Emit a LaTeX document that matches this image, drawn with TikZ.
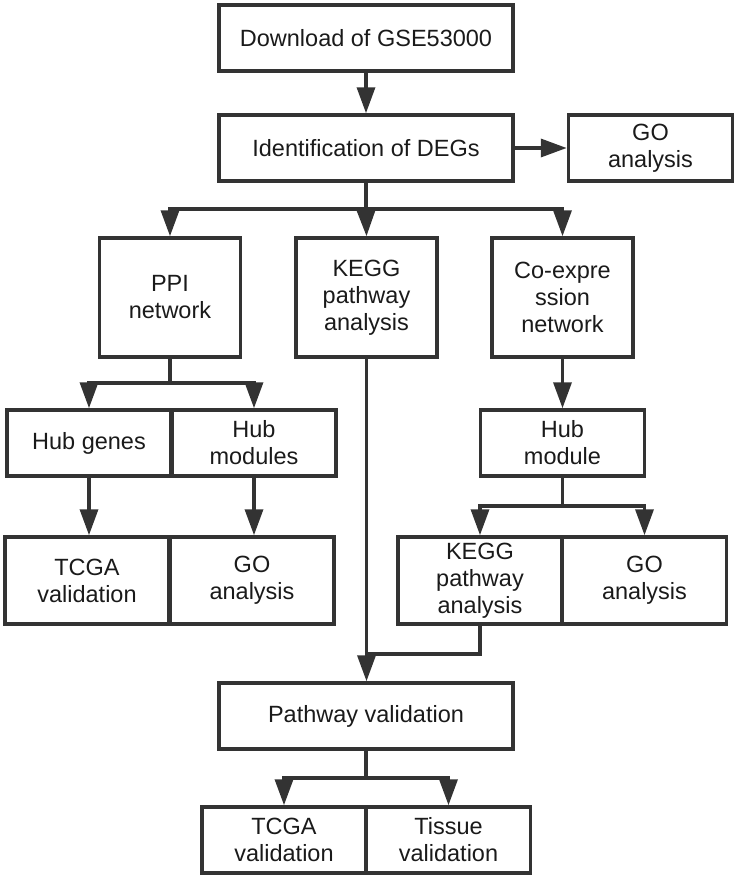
\documentclass[tikz,border=0pt]{standalone}
\usepackage{fontspec}
\setmainfont{Liberation Sans}
\usetikzlibrary{arrows.meta}
\definecolor{ink}{HTML}{333333}
\definecolor{type}{HTML}{1A1A1A}
\begin{document}
\begin{tikzpicture}[
  x=0.5pt, y=-0.5pt,
  every node/.style={draw=ink, text=type, line width=1.75pt, align=center, inner sep=2pt,
    font=\fontsize{11.75}{13.5}\selectfont},
  wide/.style={minimum width=147pt, minimum height=33pt},
  half/.style={minimum width=82pt, minimum height=33pt},
  tall/.style={minimum width=70.5pt, minimum height=59.5pt},
  pair/.style={minimum width=82pt, minimum height=43.5pt},
  flow/.style={draw=ink, line width=1.75pt, -{Triangle[length=13pt,width=9pt]}},
  link/.style={draw=ink, line width=1.75pt}
]
\useasboundingbox (0,0) rectangle (734,878);
\node[wide] (dl) at (366,38) {Download of GSE53000};
\node[wide] (deg) at (366,148) {Identification of DEGs};
\node[half] (go1) at (650.5,148) {GO\\analysis};
\node[tall] (ppi) at (170,297.5) {PPI\\network};
\node[tall] (kegg) at (366.5,297.5) {KEGG\\pathway\\analysis};
\node[tall] (coex) at (562.5,297.5) {Co-expre\\ssion\\network};
\node[half] (hubg) at (89,443) {Hub genes};
\node[half] (hubm) at (254,443) {Hub\\modules};
\node[half] (hubmod) at (562.5,443) {Hub\\module};
\node[pair] (tcga1) at (87,580.5) {TCGA\\validation};
\node[pair] (go2) at (252,580.5) {GO\\analysis};
\node[pair] (kegg2) at (480,580.5) {KEGG\\pathway\\analysis};
\node[pair] (go3) at (644.5,580.5) {GO\\analysis};
\node[wide] (pv) at (366,716) {Pathway validation};
\node[half] (tcga2) at (284,840) {TCGA\\validation};
\node[half] (tissue) at (448.5,840) {Tissue\\validation};

\coordinate (b1) at (366,209);
\coordinate (b2) at (170,383);
\coordinate (b3) at (562.5,506);
\coordinate (b4) at (480,654);
\coordinate (b5) at (366,778);

\draw[flow] (dl) -- (deg);
\draw[flow] (deg) -- (go1);
\draw[link] (deg.south) -- (b1);
\draw[flow] (b1) -| (ppi.north);
\draw[flow] (b1) -- (kegg.north);
\draw[flow] (b1) -| (coex.north);
\draw[link] (ppi.south) -- (b2);
\draw[flow] (b2) -| (hubg.north);
\draw[flow] (b2) -| (hubm.north);
\draw[flow] (hubg.south) -- (hubg.south |- tcga1.north);
\draw[flow] (hubm.south) -- (hubm.south |- go2.north);
\draw[flow] (coex) -- (hubmod);
\draw[link] (hubmod.south) -- (b3);
\draw[flow] (b3) -| (kegg2.north);
\draw[flow] (b3) -| (go3.north);
\draw[flow] (kegg.south) -- (kegg.south |- pv.north);
\draw[link] (kegg2.south) -- (b4) -- (b4 -| kegg.south);
\draw[link] (pv.south) -- (b5);
\draw[flow] (b5) -| (tcga2.north);
\draw[flow] (b5) -| (tissue.north);
\end{tikzpicture}
\end{document}
